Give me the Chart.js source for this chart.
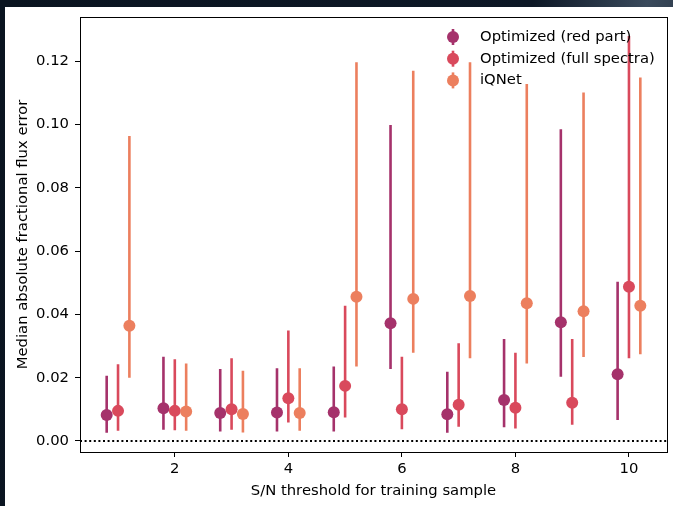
<!DOCTYPE HTML>
<html>
<head>
  <title>Median absolute fractional flux error</title>
  <meta charset="utf-8" />
  <script src="https://cdn.jsdelivr.net/npm/chart.js@4.4.0/dist/chart.umd.min.js"></script>
  <style type="text/css">
    html, body { margin: 0; padding: 0; width: 673px; height: 506px; overflow: hidden;
      background: linear-gradient(100deg, #0a1420 0%, #0d1826 70%, #3a4a5c 85%, #1a2430 100%); }
    .paper { position: absolute; left: 5px; top: 7px; right: 0; bottom: 0; background: #fff; }
    .wrap { position: absolute; left: 0; top: 0; width: 673px; height: 506px; }
  </style>
</head>
<body>
<div class="paper"></div>
<div class="wrap"><canvas id="chart" width="673" height="506"></canvas></div>

<script>
  // S/N threshold groups, each series is shifted by -0.2 / 0 / +0.2
  var snThreshold = [1, 2, 3, 4, 5, 6, 7, 8, 9, 10];
  var seriesNames = ["Optimized (red part)", "Optimized (full spectra)", "iQNet"];
  var seriesOffsets = [-0.2, 0, 0.2];
  var seriesColors = ["#a5326b", "#d9495c", "#ec7f5e"];

  // median values
  var redPartMed  = [0.0082, 0.0103, 0.0088, 0.0090, 0.0091, 0.0372, 0.0084, 0.0129, 0.0375, 0.0211];
  var fullSpecMed = [0.0095, 0.0095, 0.0100, 0.0135, 0.0174, 0.0100, 0.0114, 0.0105, 0.0121, 0.0487];
  var iqnetMed    = [0.0364, 0.0093, 0.0085, 0.0088, 0.0456, 0.0449, 0.0458, 0.0435, 0.0410, 0.0427];

  // lower / upper ends of the error bars
  var redPartLo  = [0.0026, 0.0035, 0.0030, 0.0030, 0.0030, 0.0227, 0.0026, 0.0043, 0.0203, 0.0066];
  var redPartHi  = [0.0206, 0.0266, 0.0227, 0.0230, 0.0235, 0.0999, 0.0219, 0.0322, 0.0985, 0.0503];
  var fullSpecLo = [0.0032, 0.0034, 0.0035, 0.0058, 0.0074, 0.0037, 0.0045, 0.0039, 0.0051, 0.0261];
  var fullSpecHi = [0.0242, 0.0258, 0.0261, 0.0349, 0.0427, 0.0266, 0.0309, 0.0279, 0.0322, 0.1280];
  var iqnetLo    = [0.0200, 0.0032, 0.0027, 0.0032, 0.0235, 0.0279, 0.0261, 0.0245, 0.0265, 0.0274];
  var iqnetHi    = [0.0964, 0.0245, 0.0222, 0.0230, 0.1197, 0.1170, 0.1197, 0.1128, 0.1101, 0.1149];

  var xLimits = [0.33, 10.67];
  var yLimits = [-0.0035, 0.134];
  var xTicks = [2, 4, 6, 8, 10];
  var yTicks = [0, 0.02, 0.04, 0.06, 0.08, 0.10, 0.12];

  var meds = [redPartMed, fullSpecMed, iqnetMed];
  var los = [redPartLo, fullSpecLo, iqnetLo];
  var his = [redPartHi, fullSpecHi, iqnetHi];

  var FONT = "'DejaVu Sans', sans-serif";
  var FS = 14.8;

  var datasets = [];
  for (var s = 0; s < 3; s++) {
    var bars = [], pts = [];
    for (var i = 0; i < snThreshold.length; i++) {
      var x = snThreshold[i] + seriesOffsets[s];
      bars.push({x: x, y: los[s][i]}, {x: x, y: his[s][i]}, {x: x, y: null});
      pts.push({x: x, y: meds[s][i]});
    }
    datasets.push({
      type: 'line', label: seriesNames[s] + ' err', data: bars,
      borderColor: seriesColors[s], borderWidth: 2.6, pointRadius: 0,
      spanGaps: false, borderCapStyle: 'butt', order: 10 - 2 * s
    });
    datasets.push({
      type: 'scatter', label: seriesNames[s], data: pts,
      backgroundColor: seriesColors[s], borderWidth: 0, pointRadius: 6,
      pointHoverRadius: 6, order: 9 - 2 * s
    });
  }
  // dotted horizontal line at zero
  datasets.push({
    type: 'line', label: 'zero', data: [{x: xLimits[0], y: 0}, {x: xLimits[1], y: 0}],
    borderColor: '#000', borderWidth: 2, borderDash: [2, 2.6], pointRadius: 0, order: 20
  });

  var legendPlugin = {
    id: 'errLegend',
    afterDraw: function(chart) {
      var ctx = chart.ctx;
      ctx.save();
      for (var s = 0; s < 3; s++) {
        var y = 37 + s * 21.7, x = 453;
        ctx.strokeStyle = seriesColors[s];
        ctx.lineWidth = 2.6;
        ctx.beginPath(); ctx.moveTo(x, y - 8); ctx.lineTo(x, y + 8); ctx.stroke();
        ctx.fillStyle = seriesColors[s];
        ctx.beginPath(); ctx.arc(x, y, 6, 0, Math.PI * 2); ctx.fill();
        ctx.fillStyle = '#000';
        ctx.font = FS + "px " + FONT;
        ctx.textBaseline = 'middle';
        ctx.fillText(seriesNames[s], 480, y);
      }
      ctx.restore();
    }
  };

  var tickFont = {family: FONT, size: FS};

  new Chart(document.getElementById("chart"), {
    type: 'scatter',
    data: {datasets: datasets},
    plugins: [legendPlugin],
    options: {
      responsive: false,
      animation: false,
      events: [],
      layout: {padding: {left: 5, top: 17, right: 4, bottom: 0}},
      plugins: {legend: {display: false}, tooltip: {enabled: false}},
      scales: {
        x: {
          type: 'linear', position: 'bottom', min: xLimits[0], max: xLimits[1],
          afterBuildTicks: function(sc) { sc.ticks = xTicks.map(function(v) { return {value: v}; }); },
          ticks: {font: tickFont, color: '#000', padding: 3, maxRotation: 0},
          grid: {drawOnChartArea: false, drawTicks: true, tickLength: 5, tickColor: '#000', tickWidth: 1},
          border: {display: true, color: '#000', width: 1},
          title: {display: true, text: 'S/N threshold for training sample', font: tickFont, color: '#000', padding: {top: 2, bottom: 6}},
          afterFit: function(sc) { sc.height = 54; }
        },
        x2: {
          type: 'linear', position: 'top', min: xLimits[0], max: xLimits[1],
          ticks: {display: false}, grid: {display: false},
          border: {display: true, color: '#000', width: 1},
          afterFit: function(sc) { sc.height = 0; }
        },
        y: {
          type: 'linear', position: 'left', min: yLimits[0], max: yLimits[1],
          afterBuildTicks: function(sc) { sc.ticks = yTicks.map(function(v) { return {value: v}; }); },
          ticks: {font: tickFont, color: '#000', padding: 6, callback: function(v) { return v.toFixed(2); }},
          grid: {drawOnChartArea: false, drawTicks: true, tickLength: 5, tickColor: '#000', tickWidth: 1},
          border: {display: true, color: '#000', width: 1},
          title: {display: true, text: 'Median absolute fractional flux error', font: tickFont, color: '#000', padding: {top: 9, bottom: 4}},
          afterFit: function(sc) { sc.width = 75; }
        },
        y2: {
          type: 'linear', position: 'right', min: yLimits[0], max: yLimits[1],
          ticks: {display: false}, grid: {display: false},
          border: {display: true, color: '#000', width: 1},
          afterFit: function(sc) { sc.width = 0; }
        }
      }
    }
  });
</script>
</body>
</html>
